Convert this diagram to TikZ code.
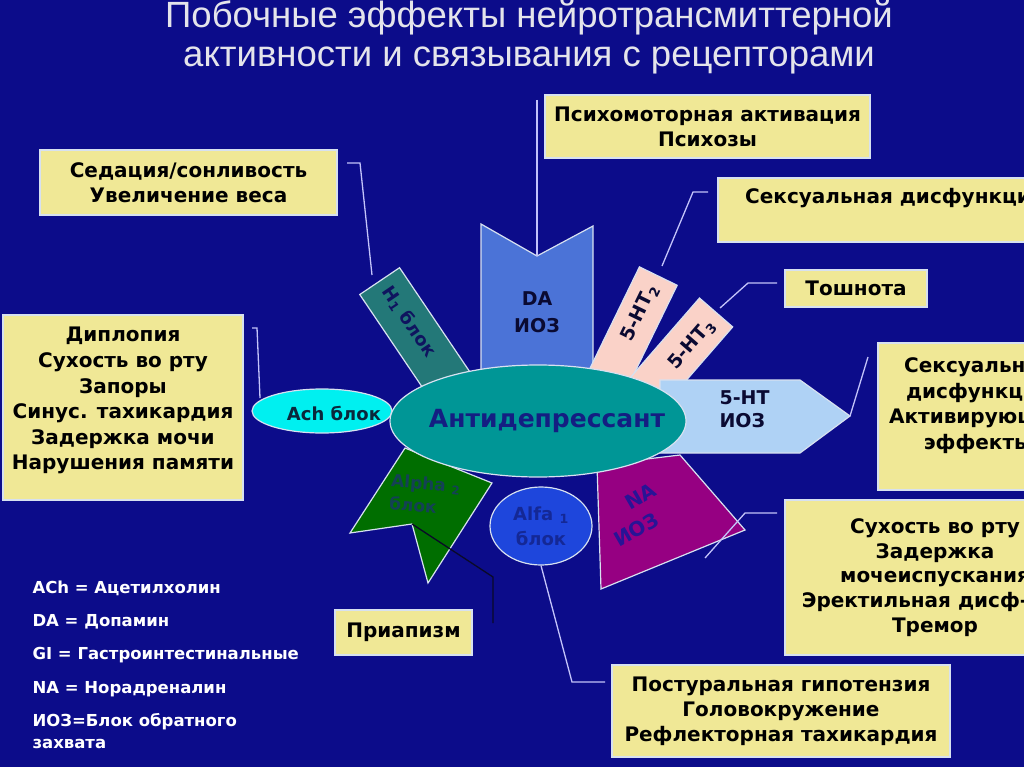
\documentclass[tikz,border=0pt]{standalone}
\usepackage{fontspec}
\setmainfont{DejaVu Sans}
\newfontfamily\titlefont{Liberation Sans}
\usetikzlibrary{shapes.geometric}

\definecolor{bgblue}{RGB}{12,12,138}
\definecolor{boxyellow}{RGB}{240,232,150}
\definecolor{boxline}{RGB}{215,225,240}
\definecolor{leadline}{RGB}{195,195,250}
\definecolor{darktext}{RGB}{15,20,95}
\definecolor{inktext}{RGB}{10,10,50}
\definecolor{titlegray}{RGB}{228,228,235}
\definecolor{tealmain}{RGB}{0,150,150}
\definecolor{drugtextcol}{RGB}{20,30,130}
\definecolor{achcyan}{RGB}{0,240,240}
\definecolor{achtextcol}{RGB}{10,40,60}
\definecolor{alfablue}{RGB}{30,70,220}
\definecolor{alfatext}{RGB}{20,40,150}
\definecolor{dablue}{RGB}{75,115,215}
\definecolor{honeteal}{RGB}{35,120,120}
\definecolor{htpink}{RGB}{250,210,200}
\definecolor{sioblue}{RGB}{175,210,245}
\definecolor{napurple}{RGB}{150,0,130}
\definecolor{natextcol}{RGB}{40,20,150}
\definecolor{alphagreen}{RGB}{0,110,0}
\definecolor{alphatextcol}{RGB}{20,65,85}
\definecolor{darklead}{RGB}{10,10,40}

\tikzset{
  effect/.style={draw=boxline, line width=1.2pt, fill=boxyellow, align=center,
    inner sep=0pt, font=\bfseries\fontsize{20}{25}\selectfont},
  part/.style={draw=boxline, line width=1.2pt},
  lead/.style={draw=leadline, line width=1.3pt},
  bartext/.style={font=\bfseries\fontsize{18}{23}\selectfont, text=darktext, align=center},
  legend/.style={anchor=base west, text=white, font=\bfseries\fontsize{16.5}{22}\selectfont, align=left},
  titletext/.style={text=titlegray, font=\titlefont\fontsize{36.5}{40}\selectfont},
}

\begin{document}
\begin{tikzpicture}[x=1pt,y=-1pt]
\fill[bgblue] (0,0) rectangle (1024,767);
\useasboundingbox (0,0) rectangle (1024,767);
\clip (0,0) rectangle (1024,767);

% title
\node[titletext] (titlea) at (529,18) {Побочные эффекты нейротрансмиттерной};
\node[titletext] (titleb) at (529,60) {активности и связывания с рецепторами};

% receptors round the drug
\draw[part, fill=dablue] (481,224) -- (537,256) coordinate (danotch) -- (593,226) -- (593,385) -- (481,385) -- cycle;
\node[font=\bfseries\fontsize{19}{27}\selectfont, text=inktext, align=center] (datext) at (537,312) {DA\\ИОЗ};

\node[part, fill=honeteal, minimum width=130pt, minimum height=48pt, rotate=-56] (honebar) at (416,335) {};
\node[bartext, rotate=-56] (honetext) at (409,322) {H\textsubscript{1} блок};

\node[part, fill=htpink, minimum width=120pt, minimum height=42pt, rotate=64] (htwobar) at (632,330) {};
\node[bartext, font=\bfseries\fontsize{19}{23}\selectfont, text=inktext, rotate=64] (htwotext) at (640,313) {5-HT\textsubscript{2}};

\node[part, fill=htpink, minimum width=110pt, minimum height=44pt, rotate=49] (hthreebar) at (680,354) {};
\node[bartext, font=\bfseries\fontsize{19}{23}\selectfont, text=inktext, rotate=49] (hthreetext) at (692,345) {5-HT\textsubscript{3}};

\draw[part, fill=sioblue] (660,380) -- (800,380) -- (850,416) coordinate (siotip) -- (800,453) -- (660,453) -- cycle;
\node[bartext, font=\bfseries\fontsize{19}{23}\selectfont, anchor=west, align=left, text=inktext] (siotext) at (716,409) {5-HT\\ИОЗ};

\draw[part, fill=napurple] (597,465) -- (680,455) -- (745,530) -- (601,589) -- cycle;
\node[bartext, font=\bfseries\fontsize{20}{27}\selectfont, text=natextcol, align=left, rotate=30] (natext) at (635,515) {\hspace*{28pt}NA\\ИОЗ};

\draw[part, fill=alphagreen] (350,533) -- (405,448) -- (492,483) -- (428,583) -- (412,524) coordinate (alphanotch) -- cycle;
\node[bartext, font=\bfseries\fontsize{17}{23}\selectfont, text=alphatextcol, align=left, rotate=-5] (alphatext) at (425,495) {Alpha \textsubscript{2}\\блок};

\node[ellipse, part, fill=achcyan, minimum width=140pt, minimum height=44pt] (ach) at (322,411) {};
\node[font=\bfseries\fontsize{18}{20}\selectfont, text=achtextcol] (achtext) at (334,413) {Ach блок};

\node[ellipse, part, fill=tealmain, minimum width=296pt, minimum height=112pt] (drug) at (538,421) {};
\node[font=\bfseries\fontsize{25}{28}\selectfont, text=drugtextcol] (drugtext) at (547,421) {Антидепрессант};

\node[ellipse, part, fill=alfablue, minimum width=102pt, minimum height=78pt, inner sep=0pt, align=center,
  font=\bfseries\fontsize{18}{25}\selectfont, text=alfatext] (alfa) at (541,526) {Alfa \textsubscript{1}\\блок};

% side effects
\node[effect, minimum width=297pt, minimum height=65pt] (sedbox) at (188.5,182.5) {Седация/сонливость\\Увеличение веса};
\node[effect, minimum width=325pt, minimum height=63pt] (psybox) at (707.5,126.5) {Психомоторная активация\\Психозы};
\node[effect, minimum width=342pt, minimum height=64pt] (sexbox) at (889,210) {};
\node[font=\bfseries\fontsize{20}{25}\selectfont, anchor=west, inner sep=0pt] (sextext) at (745,198) {Сексуальная дисфункция};
\node[effect, minimum width=142pt, minimum height=37pt] (nausbox) at (856,288.5) {Тошнота};
\node[effect, minimum width=200pt, minimum height=147pt, font=\bfseries\fontsize{20}{25.5}\selectfont] (actbox) at (978,416.5) {Сексуальная\\дисфункция\\Активирующие\\эффекты\\~};
\node[effect, minimum width=300pt, minimum height=155pt, font=\bfseries\fontsize{20}{24.8}\selectfont] (drybox) at (935,577.5) {Сухость во рту\\Задержка\\мочеиспускания\\\makebox[0pt]{Эректильная дисф-\rule{40pt}{0pt}}\\Тремор};
\node[effect, minimum width=338pt, minimum height=92pt] (postbox) at (781,711) {Постуральная гипотензия\\Головокружение\\Рефлекторная тахикардия};
\node[effect, minimum width=137pt, minimum height=45pt] (priabox) at (403.5,632.5) {Приапизм};
\node[effect, minimum width=240pt, minimum height=185pt, font=\bfseries\fontsize{20}{25.6}\selectfont] (dipbox) at (123,407.5) {Диплопия\\Сухость во рту\\Запоры\\Синус. тахикардия\\Задержка мочи\\Нарушения памяти\\[-8pt]~};

% leads
\draw[lead] (347,163) coordinate (seda) -- (360,163) -- (372,275) coordinate (honetip);
\draw[lead] (537,100) coordinate (psya) -- (danotch);
\draw[lead] (708,192) coordinate (sexa) -- (693,192) -- (662,266) coordinate (htwotip);
\draw[lead] (777,283) coordinate (nausa) -- (748,283) -- (720,308) coordinate (hthreetip);
\draw[lead] (siotip) -- (868,357) coordinate (acta);
\draw[lead] (705,558) coordinate (natip) -- (745,513) -- (777,513) coordinate (drya);
\draw[lead] (alfa.south) -- (572,682) -- (605,682) coordinate (posta);
\draw[lead] (252,328) coordinate (dipa) -- (257,328) -- (260,398) coordinate (achtip);
\draw[line width=1.3pt, darklead] (alphanotch) -- (493,577) -- (493,623) coordinate (priaa);

% legend
\node[legend] (lega) at (29,593) {ACh = Ацетилхолин};
\node[legend] (legb) at (29,626) {DA = Допамин};
\node[legend] (legc) at (29,659) {GI = Гастроинтестинальные};
\node[legend] (legd) at (29,693) {NA = Норадреналин};
\node[legend] (lege) at (29,748) {ИОЗ=Блок обратного\\захвата};
\end{tikzpicture}
\end{document}
